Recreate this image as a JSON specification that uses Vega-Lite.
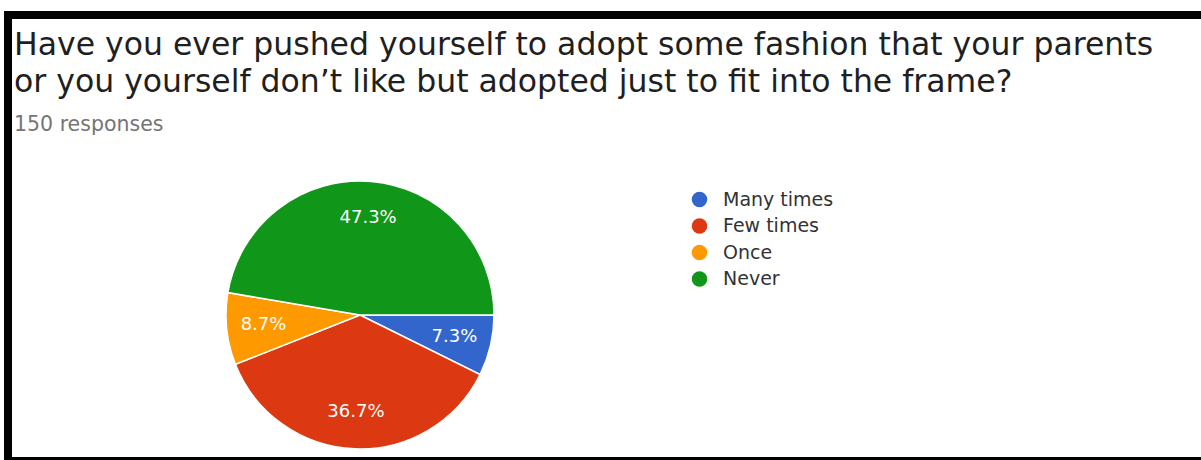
{
  "$schema": "https://vega.github.io/schema/vega-lite/v6.json",
  "autosize": {"type": "none"},
  "padding": {"left": 8, "top": 15, "right": 0, "bottom": 0},
  "width": 1250,
  "height": 446,
  "background": "white",
  "config": {
    "view": {"stroke": "black", "strokeWidth": 8, "fill": "white"}
  },
  "title": {
    "text": ["Have you ever pushed yourself to adopt some fashion that your parents", "or you yourself don’t like but adopted just to fit into the frame?"],
    "subtitle": "150 responses",
    "anchor": "start",
    "frame": "group",
    "orient": "top",
    "offset": -120,
    "dx": 6,
    "font": "DejaVu Sans",
    "fontSize": 31.5,
    "fontWeight": "normal",
    "lineHeight": 37,
    "color": "#1f1f1f",
    "subtitleFont": "DejaVu Sans",
    "subtitleFontSize": 20.5,
    "subtitleColor": "#757575",
    "subtitlePadding": 16
  },
  "data": {
    "values": [
      {"answer": "Many times", "share": 0.0733, "idx": 1},
      {"answer": "Few times", "share": 0.3667, "idx": 2},
      {"answer": "Once", "share": 0.0867, "idx": 3},
      {"answer": "Never", "share": 0.4733, "idx": 4}
    ]
  },
  "encoding": {
    "theta": {"field": "share", "type": "quantitative", "stack": true, "scale": {"range": [1.5708, 7.854]}},
    "order": {"field": "idx", "type": "quantitative"},
    "x": {"datum": 0.2816, "type": "quantitative", "scale": {"domain": [0, 1]}, "axis": null},
    "y": {"datum": 0.3274, "type": "quantitative", "scale": {"domain": [0, 1]}, "axis": null}
  },
  "layer": [
    {
      "mark": {"type": "arc", "radius": 134, "stroke": "white", "strokeWidth": 1.5},
      "encoding": {
        "color": {
          "field": "answer",
          "type": "nominal",
          "scale": {"domain": ["Many times", "Few times", "Once", "Never"], "range": ["#3366CC", "#DC3912", "#FF9900", "#109618"]},
          "legend": {
            "title": null,
            "orient": "none",
            "legendX": 682,
            "legendY": 175,
            "symbolType": "circle",
            "symbolSize": 240,
            "symbolStrokeWidth": 0,
            "labelFont": "DejaVu Sans",
            "labelFontSize": 19,
            "labelColor": "#333333",
            "labelOffset": 14,
            "rowPadding": 6.5
          }
        }
      }
    },
    {
      "mark": {"type": "text", "radius": 97, "fill": "white", "font": "DejaVu Sans", "fontSize": 18},
      "encoding": {
        "text": {"field": "share", "type": "quantitative", "format": ".1%"}
      }
    }
  ]
}
